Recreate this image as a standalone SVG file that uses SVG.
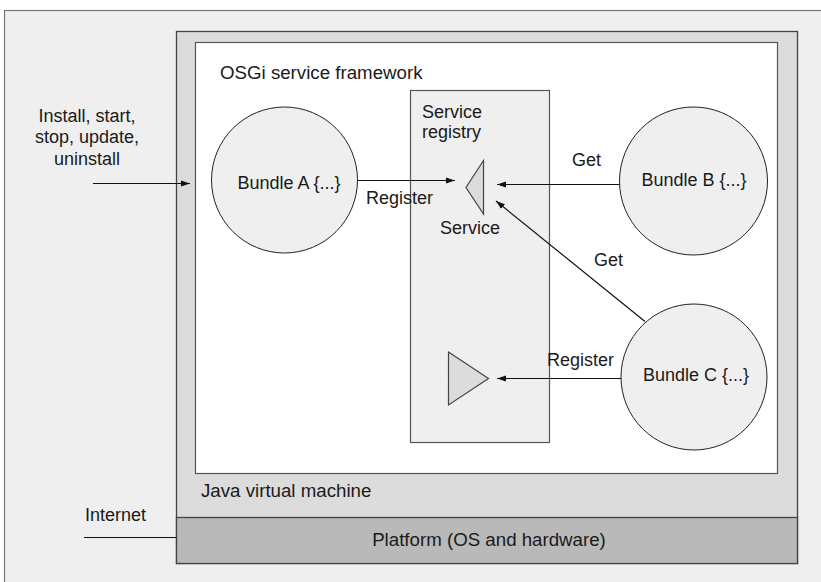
<svg xmlns="http://www.w3.org/2000/svg" width="821" height="582" viewBox="0 0 821 582">
  <style>
    text { font-family: "Liberation Sans", Arial, sans-serif; font-size: 18px; fill: #1a1a1a; }
    .big { font-size: 18.7px; }
    .mid { text-anchor: middle; }
    .bundle { fill: #efefef; stroke: #222; stroke-width: 1; }
    .conn { stroke: #111; stroke-width: 1.2; fill: none; }
    .svc { fill: #dcdcdc; stroke: #444; stroke-width: 1.2; }
  </style>
  <defs>
    <marker id="arrow" markerWidth="10" markerHeight="8" refX="9" refY="4" orient="auto" markerUnits="userSpaceOnUse">
      <path d="M0,1 L9,4 L0,7 Z" fill="#111"/>
    </marker>
  </defs>

  <!-- device background -->
  <rect x="4.5" y="10.5" width="830" height="600" fill="#efefef" stroke="#777" stroke-width="1.2"/>

  <!-- Java virtual machine -->
  <g id="jvm">
    <rect x="176.5" y="31.5" width="621" height="532" fill="#dcdcdc" stroke="#444" stroke-width="1.3"/>
    <text class="big" x="201" y="497">Java virtual machine</text>
  </g>

  <!-- Platform -->
  <g id="platform">
    <rect x="176.5" y="517.5" width="621" height="46" fill="#b9b9b9" stroke="#444" stroke-width="1.3"/>
    <text class="mid big" x="489" y="546">Platform (OS and hardware)</text>
  </g>

  <!-- OSGi framework -->
  <g id="framework">
    <rect x="195.5" y="42.5" width="582" height="431" fill="#ffffff" stroke="#555" stroke-width="1.2"/>
    <text class="big" x="220" y="79">OSGi service framework</text>
  </g>

  <!-- Service registry -->
  <g id="registry">
    <rect x="410.5" y="90.5" width="139" height="352" fill="#efefef" stroke="#555" stroke-width="1.2"/>
    <text x="422" y="118">Service</text>
    <text x="422" y="138">registry</text>
  </g>

  <!-- registered services -->
  <g id="service-b">
    <polygon class="svc" points="483.5,160.5 466,187.5 483.5,214"/>
    <text class="mid" x="470" y="234">Service</text>
  </g>
  <g id="service-c">
    <polygon class="svc" points="448.5,352 488.5,378.5 448.5,405"/>
  </g>

  <!-- bundles -->
  <g id="bundle-a">
    <circle class="bundle" cx="284.5" cy="180" r="73"/>
    <text class="mid" x="289" y="189">Bundle A {...}</text>
  </g>
  <g id="bundle-b">
    <circle class="bundle" cx="693.5" cy="181" r="74"/>
    <text class="mid" x="694" y="186">Bundle B {...}</text>
  </g>
  <g id="bundle-c">
    <circle class="bundle" cx="694" cy="377" r="73"/>
    <text class="mid" x="696" y="381">Bundle C {...}</text>
  </g>

  <!-- connectors -->
  <g id="connectors">
    <line class="conn" x1="93" y1="183.5" x2="190" y2="183.5" marker-end="url(#arrow)"/>
    <line class="conn" x1="357.5" y1="180.5" x2="455" y2="180.5" marker-end="url(#arrow)"/>
    <line class="conn" x1="619.5" y1="184.5" x2="497" y2="184.5" marker-end="url(#arrow)"/>
    <line class="conn" x1="645" y1="321.5" x2="496" y2="201" marker-end="url(#arrow)"/>
    <line class="conn" x1="621" y1="378.5" x2="497" y2="378.5" marker-end="url(#arrow)"/>
    <line class="conn" x1="84" y1="537.5" x2="176.5" y2="537.5"/>
  </g>

  <!-- connector labels -->
  <g id="labels">
    <text class="mid" x="87" y="122">Install, start,</text>
    <text class="mid" x="87" y="143">stop, update,</text>
    <text class="mid" x="87" y="165">uninstall</text>
    <text x="366" y="204">Register</text>
    <text x="572" y="166">Get</text>
    <text x="594" y="266">Get</text>
    <text x="547" y="366">Register</text>
    <text x="85" y="521">Internet</text>
  </g>
</svg>
